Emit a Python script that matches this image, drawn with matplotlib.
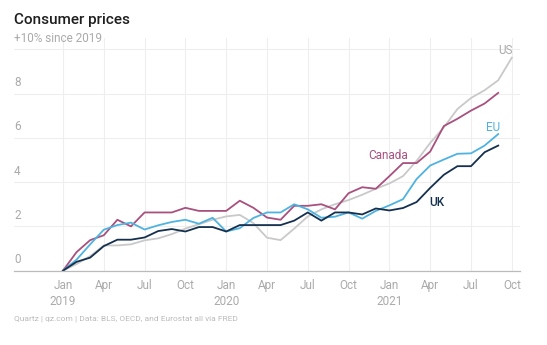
import matplotlib.pyplot as plt

plt.rcParams['font.family'] = ['Roboto', 'DejaVu Sans']

# months since Jan 2019
tick_pos = list(range(0, 34, 3))
tick_labels = ['Jan\n2019', 'Apr', 'Jul', 'Oct', 'Jan\n2020', 'Apr', 'Jul', 'Oct',
               'Jan\n2021', 'Apr', 'Jul', 'Oct']

# % change in prices since Jan 2019
us = [0, 0.3, 0.66, 1.14, 1.14, 1.19, 1.37, 1.46, 1.65, 1.9, 2.1, 2.3,
      2.45, 2.52, 2.15, 1.49, 1.38, 1.9, 2.45, 2.77, 3.0, 3.19, 3.43, 3.7,
      3.94, 4.27, 4.96, 5.77, 6.47, 7.3, 7.8, 8.15, 8.6, 9.62]
canada = [0, 0.84, 1.38, 1.6, 2.3, 2.0, 2.63, 2.63, 2.63, 2.84, 2.7, 2.7,
          2.7, 3.16, 2.84, 2.4, 2.3, 2.93, 2.93, 3.0, 2.77, 3.5, 3.77, 3.7,
          4.27, 4.86, 4.86, 5.38, 6.53, 6.86, 7.23, 7.55, 8.03]
eu = [0, 0.5, 1.19, 1.85, 2.06, 2.17, 1.86, 2.05, 2.2, 2.3, 2.12, 2.39,
      1.77, 1.92, 2.38, 2.63, 2.63, 3.0, 2.77, 2.39, 2.44, 2.63, 2.35, 2.7,
      2.95, 3.23, 4.14, 4.75, 5.02, 5.28, 5.3, 5.65, 6.17]
uk = [0, 0.4, 0.59, 1.11, 1.4, 1.4, 1.5, 1.79, 1.88, 1.77, 1.97, 1.97,
      1.77, 2.06, 2.06, 2.06, 2.06, 2.26, 2.63, 2.26, 2.63, 2.63, 2.54, 2.81,
      2.72, 2.83, 3.1, 3.74, 4.33, 4.72, 4.72, 5.35, 5.65]

y_ticks = [0, 2, 4, 6, 8, 10]
y_labels = ['0', '2', '4', '6', '8', '+10% since 2019']

fig = plt.figure(figsize=(5.47, 3.45), dpi=100)
ax = fig.add_axes([0.0256, 0.2154, 0.925, 0.6739])

ax.plot(range(len(us)), us, color='#c9c9c9', lw=1.3)
ax.plot(range(len(canada)), canada, color='#a8507e', lw=1.3)
ax.plot(range(len(eu)), eu, color='#4fb3df', lw=1.3)
ax.plot(range(len(uk)), uk, color='#15304f', lw=1.3)

ax.text(32.5, 9.95, 'US', color='#aaaaaa', fontsize=8.5, ha='center', va='center')
ax.text(31.6, 6.48, 'EU', color='#4fb3df', fontsize=8.5, ha='center', va='center')
ax.text(23.9, 5.18, 'Canada', color='#a8507e', fontsize=8.5, ha='center', va='center')
ax.text(27.5, 3.1, 'UK', color='#15304f', fontsize=8.5, ha='center', va='center',
        fontweight='medium')

ax.set_xlim(-3.6, 33.6)
ax.set_ylim(0, 10.5)

ax.set_xticks(tick_pos)
ax.set_xticklabels(tick_labels, fontsize=8.5, color='#aaaaaa', linespacing=1.3)
ax.tick_params(axis='x', length=0, pad=6)
ax.set_yticks(y_ticks)
ax.set_yticklabels([])
ax.tick_params(axis='y', length=0)

for v, lab in zip(y_ticks, y_labels):
    ax.text(0.0, v + 0.2, lab, transform=ax.get_yaxis_transform(),
            fontsize=8.5, color='#aaaaaa', ha='left', va='bottom')

ax.grid(True, color='#eeeeee', lw=0.8)
ax.set_axisbelow(True)
for s in ['top', 'right', 'left']:
    ax.spines[s].set_visible(False)
ax.spines['bottom'].set_color('#bbbbbb')
ax.spines['bottom'].set_linewidth(0.9)

fig.text(0.0256, 0.942, 'Consumer prices', fontsize=11, color='#1e1e1e',
         ha='left', va='center', fontweight='medium')
fig.text(0.0256, 0.075, 'Quartz | qz.com | Data: BLS, OECD, and Eurostat all via FRED',
         fontsize=6, color='#bbbbbb', ha='left', va='center')

fig.savefig('out.png', dpi=100, facecolor='white')
